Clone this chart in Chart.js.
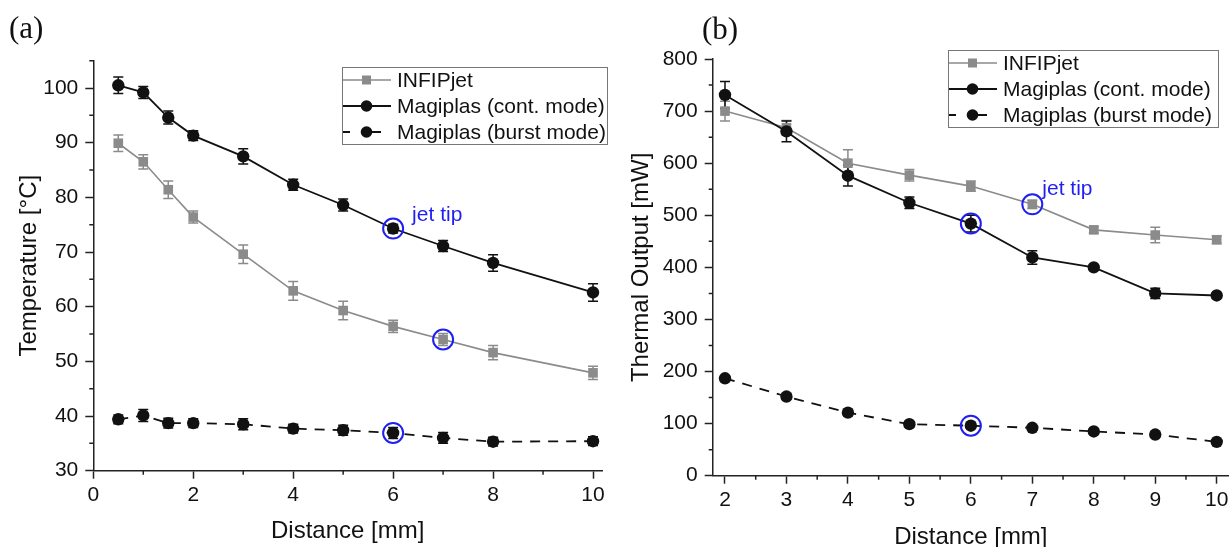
<!DOCTYPE html>
<html>
<head>
<meta charset="utf-8">
<script src="https://cdn.jsdelivr.net/npm/chart.js@4.4.1/dist/chart.umd.min.js"></script>
<style>
html, body { margin: 0; padding: 0; background: #fff; width: 1229px; height: 547px; overflow: hidden; }
.panel { position: absolute; top: 0; }
#wrapA { left: 0; }
#wrapB { left: 614px; }
.tag { position: absolute; font-family: "Liberation Serif", "Times New Roman", serif; font-size: 31px; color: #111; }
</style>
</head>
<body>
<div class="panel" id="wrapA"><canvas id="chartA" width="614" height="560"></canvas></div>
<div class="panel" id="wrapB"><canvas id="chartB" width="640" height="560"></canvas></div>
<div class="tag" style="left:9px; top:10px;">(a)</div>
<div class="tag" style="left:702px; top:11px;">(b)</div>
<script>
// ---- panel (a): temperature vs distance ----
const distA = [0.5, 1, 1.5, 2, 3, 4, 5, 6, 7, 8, 10];
const infipTemp = [89.9, 86.5, 81.4, 76.4, 69.6, 62.9, 59.3, 56.4, 54.0, 51.6, 47.9];
const infipTempErr = [1.5, 1.3, 1.6, 1.1, 1.7, 1.7, 1.7, 1.1, 1.1, 1.3, 1.2];
const contTemp = [100.5, 99.2, 94.6, 91.3, 87.5, 82.3, 78.6, 74.3, 71.1, 68.0, 62.6];
const contTempErr = [1.5, 1.1, 1.2, 0.9, 1.4, 1.0, 1.1, 0.8, 1.0, 1.5, 1.6];
const burstTemp = [39.4, 40.1, 38.7, 38.7, 38.5, 37.7, 37.4, 36.9, 36.0, 35.3, 35.4];
const burstTempErr = [0.8, 1.1, 0.9, 0.8, 1.0, 0.8, 0.9, 1.0, 1.0, 0.8, 0.8];

const tempTicks = [30, 40, 50, 60, 70, 80, 90, 100];
const tempMinor = [35, 45, 55, 65, 75, 85, 95, 105];
const distATicks = [0, 2, 4, 6, 8, 10];
const distAMinor = [1, 3, 5, 7, 9];

// ---- panel (b): thermal output vs distance ----
const distB = [2, 3, 4, 5, 6, 7, 8, 9, 10];
const infipPower = [700, 668, 600, 577, 556, 521, 472, 462, 453];
const infipPowerErr = [19, 14, 26, 11, 10, 8, 6, 15, 7];
const contPower = [731, 661, 576, 524, 484, 419, 400, 350, 346];
const contPowerErr = [26, 20, 20, 11, 16, 13, 4, 10, 5];
const burstPower = [187, 152, 121, 99, 96, 92, 85, 79, 65];
const burstPowerErr = [5, 5, 6, 5, 5, 4, 4, 4, 4];

const powerTicks = [0, 100, 200, 300, 400, 500, 600, 700, 800];
const powerMinor = [50, 150, 250, 350, 450, 550, 650, 750];
const distBTicks = [2, 3, 4, 5, 6, 7, 8, 9, 10];
const distBMinor = [2.5, 3.5, 4.5, 5.5, 6.5, 7.5, 8.5, 9.5];

const seriesNames = ['INFIPjet', 'Magiplas (cont. mode)', 'Magiplas (burst mode)'];
const jetTipLabel = 'jet tip';

const GRAY = '#8b8b8b';
const BLACK = '#111111';
const BLUE = '#1f1ff2';
const AXIS = '#222222';
const FONT = '"Liberation Sans", Arial, sans-serif';

Chart.defaults.font.family = FONT;
Chart.defaults.color = BLACK;

function pts(xs, ys) {
    return xs.map((x, i) => ({ x: x, y: ys[i] }));
}

// draws error bars, minor ticks, the custom legend and the "jet tip" note
const extrasPlugin = {
    id: 'extras',
    beforeDatasetsDraw(chart, args, opts) {
        const ctx = chart.ctx;
        const xs = chart.scales.x, ys = chart.scales.y;
        opts.errors.forEach(e => {
            ctx.save();
            ctx.strokeStyle = e.color;
            ctx.lineWidth = 1.5;
            e.x.forEach((xv, i) => {
                const px = xs.getPixelForValue(xv);
                const top = ys.getPixelForValue(e.y[i] + e.err[i]);
                const bot = ys.getPixelForValue(e.y[i] - e.err[i]);
                ctx.beginPath();
                ctx.moveTo(px, top); ctx.lineTo(px, bot);
                ctx.moveTo(px - 5, top); ctx.lineTo(px + 5, top);
                ctx.moveTo(px - 5, bot); ctx.lineTo(px + 5, bot);
                ctx.stroke();
            });
            ctx.restore();
        });
    },
    afterDraw(chart, args, opts) {
        const ctx = chart.ctx;
        const area = chart.chartArea;
        const xs = chart.scales.x, ys = chart.scales.y;

        // minor ticks
        ctx.save();
        ctx.strokeStyle = AXIS;
        ctx.lineWidth = 1.5;
        ctx.beginPath();
        opts.xMinor.forEach(v => {
            const px = xs.getPixelForValue(v);
            ctx.moveTo(px, area.bottom); ctx.lineTo(px, area.bottom + 4);
        });
        opts.yMinor.forEach(v => {
            const py = ys.getPixelForValue(v);
            ctx.moveTo(area.left - 4, py); ctx.lineTo(area.left, py);
        });
        ctx.stroke();
        ctx.restore();

        // jet tip note next to one of the circled points
        const tip = opts.tipNote;
        ctx.save();
        ctx.fillStyle = BLUE;
        ctx.font = '21px ' + FONT;
        ctx.textBaseline = 'middle';
        ctx.textAlign = 'left';
        ctx.fillText(jetTipLabel, xs.getPixelForValue(tip.x) + tip.dx, ys.getPixelForValue(tip.y) + tip.dy);
        ctx.restore();

        // legend box
        const lg = opts.legend;
        ctx.save();
        ctx.strokeStyle = '#777';
        ctx.lineWidth = 1;
        ctx.strokeRect(lg.x + 0.5, lg.y + 0.5, lg.w, lg.h);
        ctx.font = '21px ' + FONT;
        ctx.textBaseline = 'middle';
        ctx.fillStyle = BLACK;
        for (let i = 0; i < 3; i++) {
            const ds = chart.data.datasets[i];
            const cy = lg.y + 13 + i * 26;
            const x0 = lg.x + 1;
            ctx.strokeStyle = ds.borderColor;
            ctx.lineWidth = ds.borderWidth;
            ctx.beginPath();
            if (ds.borderDash) {
                ctx.moveTo(x0, cy); ctx.lineTo(x0 + 7, cy);
                ctx.moveTo(x0 + 29, cy); ctx.lineTo(x0 + 38, cy);
            } else {
                ctx.moveTo(x0, cy); ctx.lineTo(x0 + 48, cy);
            }
            ctx.stroke();
            ctx.fillStyle = ds.pointBackgroundColor;
            if (ds.pointStyle === 'rect') {
                ctx.fillRect(x0 + 19, cy - 4.5, 9, 9);
            } else {
                ctx.beginPath();
                ctx.arc(x0 + 23.5, cy, 5.8, 0, Math.PI * 2);
                ctx.fill();
            }
            ctx.fillStyle = BLACK;
            ctx.fillText(seriesNames[i], lg.x + 55, cy + 1);
        }
        ctx.restore();
    }
};

function makePanel(canvasId, cfg) {
    const tipPoints = cfg.tips.map(t => ({ x: t.x, y: t.series[cfg.xs.indexOf(t.x)] }));
    const datasets = [
        {
            label: seriesNames[0], data: pts(cfg.xs, cfg.infip),
            borderColor: GRAY, borderWidth: 1.6, pointStyle: 'rect', pointRadius: 6.8,
            pointBackgroundColor: GRAY, pointBorderColor: GRAY, pointBorderWidth: 0, order: 3
        },
        {
            label: seriesNames[1], data: pts(cfg.xs, cfg.cont),
            borderColor: BLACK, borderWidth: 1.8, pointStyle: 'circle', pointRadius: 6.2,
            pointBackgroundColor: BLACK, pointBorderColor: BLACK, pointBorderWidth: 0, order: 2
        },
        {
            label: seriesNames[2], data: pts(cfg.xs, cfg.burst),
            borderColor: BLACK, borderWidth: 1.8, borderDash: [10, 8], pointStyle: 'circle', pointRadius: 6.2,
            pointBackgroundColor: BLACK, pointBorderColor: BLACK, pointBorderWidth: 0, order: 2
        },
        {
            label: jetTipLabel, data: tipPoints, showLine: false,
            pointStyle: 'circle', pointRadius: 10, pointBackgroundColor: 'rgba(0,0,0,0)',
            pointBorderColor: BLUE, pointBorderWidth: 2, order: 1
        }
    ];

    return new Chart(document.getElementById(canvasId), {
        type: 'line',
        data: { datasets: datasets },
        plugins: [extrasPlugin],
        options: {
            responsive: false,
            animation: false,
            events: [],
            layout: { padding: cfg.padding },
            elements: { line: { tension: 0 } },
            datasets: { line: { clip: false } },
            scales: {
                x: {
                    type: 'linear', min: cfg.xMin, max: cfg.xMax,
                    afterBuildTicks: s => { s.ticks = cfg.xTicks.map(v => ({ value: v })); },
                    afterFit: s => { s.height = cfg.xAxisHeight; },
                    grid: { drawOnChartArea: false, tickLength: 8, tickColor: AXIS, tickWidth: 1.5 },
                    border: { color: AXIS, width: 1.5 },
                    ticks: { font: { size: 21 }, color: BLACK, padding: 4, maxRotation: 0, autoSkip: false },
                    title: { display: true, text: 'Distance [mm]', font: { size: 24 }, color: BLACK,
                             padding: { top: 0, bottom: cfg.xTitlePad } }
                },
                y: {
                    type: 'linear', min: cfg.yMin, max: cfg.yMax,
                    afterBuildTicks: s => { s.ticks = cfg.yTicks.map(v => ({ value: v })); },
                    afterFit: s => { s.width = cfg.yAxisWidth; },
                    grid: { drawOnChartArea: false, tickLength: 8, tickColor: AXIS, tickWidth: 1.5 },
                    border: { color: AXIS, width: 1.5 },
                    ticks: { font: { size: 21 }, color: BLACK, padding: 7, autoSkip: false },
                    title: { display: true, text: cfg.yTitle, font: { size: 24 }, color: BLACK,
                             padding: { top: cfg.yTitlePad, bottom: 0 } }
                }
            },
            plugins: {
                legend: { display: false },
                tooltip: { enabled: false },
                extras: {
                    errors: [
                        { x: cfg.xs, y: cfg.infip, err: cfg.infipErr, color: GRAY },
                        { x: cfg.xs, y: cfg.cont, err: cfg.contErr, color: BLACK },
                        { x: cfg.xs, y: cfg.burst, err: cfg.burstErr, color: BLACK }
                    ],
                    xMinor: cfg.xMinor,
                    yMinor: cfg.yMinor,
                    tipNote: cfg.tipNote,
                    legend: cfg.legend
                }
            }
        }
    });
}

makePanel('chartA', {
    xs: distA, infip: infipTemp, infipErr: infipTempErr,
    cont: contTemp, contErr: contTempErr, burst: burstTemp, burstErr: burstTempErr,
    xMin: 0, xMax: 10.18, yMin: 30, yMax: 105,
    xTicks: distATicks, xMinor: distAMinor, yTicks: tempTicks, yMinor: tempMinor,
    yTitle: 'Temperature [°C]',
    padding: { left: 0, top: 60.7, right: 12, bottom: 0 },
    yAxisWidth: 93.3, xAxisHeight: 89.3, xTitlePad: 14.6, yTitlePad: 15,
    tips: [{ x: 6, series: contTemp }, { x: 7, series: infipTemp }, { x: 6, series: burstTemp }],
    tipNote: { x: 6, y: contTemp[distA.indexOf(6)], dx: 19, dy: -13 },
    legend: { x: 342, y: 67, w: 265, h: 77 }
});

// canvas (b) runs past the window edge; the extra right padding puts the
// axis end exactly at the window edge, like the cropped original
makePanel('chartB', {
    xs: distB, infip: infipPower, infipErr: infipPowerErr,
    cont: contPower, contErr: contPowerErr, burst: burstPower, burstErr: burstPowerErr,
    xMin: 1.8, xMax: 10.2, yMin: 0, yMax: 800,
    xTicks: distBTicks, xMinor: distBMinor, yTicks: powerTicks, yMinor: powerMinor,
    yTitle: 'Thermal Output [mW]',
    padding: { left: 0, top: 59, right: 25, bottom: 0 },
    yAxisWidth: 98.7, xAxisHeight: 84.3, xTitlePad: 8.6, yTitlePad: 13,
    tips: [{ x: 7, series: infipPower }, { x: 6, series: contPower }, { x: 6, series: burstPower }],
    tipNote: { x: 7, y: infipPower[distB.indexOf(7)], dx: 10, dy: -15 },
    legend: { x: 334, y: 50, w: 270, h: 77 }
});
</script>
</body>
</html>
